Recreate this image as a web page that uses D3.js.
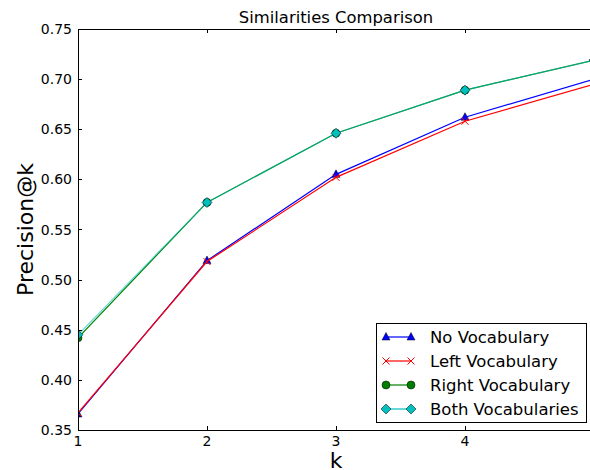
<!DOCTYPE html>
<html><head><meta charset="utf-8">
<script src="https://cdn.jsdelivr.net/npm/d3@7"></script>
<style>
body{margin:0;background:#fff;}
svg{display:block;font-family:"DejaVu Sans",sans-serif;}
</style></head>
<body><svg id="c" width="590" height="470"></svg>
<script>
const ks = [1, 2, 3, 4, 5];
const noVocab = [0.366, 0.519, 0.605, 0.662, 0.700];
const leftVocab = [0.367, 0.518, 0.602, 0.658, 0.695];
const rightVocab = [0.442, 0.577, 0.646, 0.689, 0.719];
const bothVocab = [0.445, 0.577, 0.646, 0.689, 0.719];
const xTicks = [1, 2, 3, 4, 5];
const xTickLabels = ["1", "2", "3", "4", ""];
const yTicks = [0.35, 0.40, 0.45, 0.50, 0.55, 0.60, 0.65, 0.70, 0.75];
const seriesNames = ["No Vocabulary", "Left Vocabulary", "Right Vocabulary", "Both Vocabularies"];

const series = [
  {name: seriesNames[0], vals: noVocab, color: "#0000ff", marker: "tri"},
  {name: seriesNames[1], vals: leftVocab, color: "#ff0000", marker: "x"},
  {name: seriesNames[2], vals: rightVocab, color: "#008000", marker: "circle"},
  {name: seriesNames[3], vals: bothVocab, color: "#00bfbf", marker: "diamond"}
];

const svg = d3.select("#c");
const L = 78, T = 29, B = 430, R = 594;
const x = d3.scaleLinear().domain([1, 5]).range([L, R]);
const y = d3.scaleLinear().domain([0.35, 0.75]).range([B, T]);

svg.append("defs").append("clipPath").attr("id", "clip")
  .append("rect").attr("x", L).attr("y", T).attr("width", R - L).attr("height", B - T);

const plot = svg.append("g").attr("clip-path", "url(#clip)");
const line = d3.line().x((d, i) => x(ks[i])).y(d => y(d));

function drawMarker(g, type, cx, cy, color) {
  if (type === "tri") {
    g.append("path").attr("d", `M${cx},${cy-4.5}L${cx+4},${cy+3}L${cx-4},${cy+3}Z`)
      .attr("fill", color).attr("stroke", "#000").attr("stroke-width", 0.5);
  } else if (type === "x") {
    g.append("path").attr("d", `M${cx-3.5},${cy-3.5}L${cx+3.5},${cy+3.5}M${cx-3.5},${cy+3.5}L${cx+3.5},${cy-3.5}`)
      .attr("stroke", color).attr("stroke-width", 1).attr("fill", "none");
  } else if (type === "circle") {
    g.append("circle").attr("cx", cx).attr("cy", cy).attr("r", 4)
      .attr("fill", color).attr("stroke", "#000").attr("stroke-width", 0.5);
  } else if (type === "diamond") {
    g.append("path").attr("d", `M${cx},${cy-5}L${cx+5},${cy}L${cx},${cy+5}L${cx-5},${cy}Z`)
      .attr("fill", color).attr("stroke", "#000").attr("stroke-width", 0.5);
  }
}

series.forEach((s, si) => {
  plot.append("path").datum(s.vals).attr("d", line)
    .attr("fill", "none").attr("stroke", s.color).attr("stroke-width", 1.2)
    .attr("stroke-opacity", si === 3 ? 0.6 : 1);
  s.vals.forEach((v, i) => drawMarker(plot, s.marker, x(ks[i]), y(v), s.color));
});

// frame
const frame = svg.append("g").attr("stroke", "#000").attr("stroke-width", 1).attr("fill", "none");
frame.append("rect").attr("x", L + 0.5).attr("y", T + 0.5).attr("width", R - L).attr("height", B - T);

// ticks
const tk = svg.append("g").attr("stroke", "#000").attr("stroke-width", 1);
xTicks.forEach(t => {
  const px = Math.round(x(t)) + 0.5;
  tk.append("line").attr("x1", px).attr("x2", px).attr("y1", B).attr("y2", B - 4);
  tk.append("line").attr("x1", px).attr("x2", px).attr("y1", T).attr("y2", T + 4);
});
yTicks.forEach(t => {
  const py = Math.round(y(t)) + 0.5;
  tk.append("line").attr("x1", L).attr("x2", L + 4).attr("y1", py).attr("y2", py);
  tk.append("line").attr("x1", R).attr("x2", R - 4).attr("y1", py).attr("y2", py);
});

// tick labels
xTicks.forEach((t, i) => {
  if (!xTickLabels[i]) return;
  svg.append("text").attr("x", x(t)).attr("y", 446).attr("text-anchor", "middle")
    .attr("font-size", 14).attr("fill", "#000").text(xTickLabels[i]);
});
yTicks.forEach(t => {
  svg.append("text").attr("x", 72).attr("y", y(t) + 5).attr("text-anchor", "end")
    .attr("font-size", 14).attr("fill", "#000").text(t.toFixed(2));
});

// title & labels
svg.append("text").attr("x", (L + R) / 2).attr("y", 23).attr("text-anchor", "middle")
  .attr("font-size", 16.4).attr("fill", "#000").text("Similarities Comparison");
svg.append("text").attr("x", (L + R) / 2).attr("y", 468).attr("text-anchor", "middle")
  .attr("font-size", 22).attr("fill", "#000").text("k");
svg.append("text").attr("transform", `translate(33,${(T + B) / 2}) rotate(-90)`)
  .attr("text-anchor", "middle").attr("font-size", 22).attr("fill", "#000").text("Precision@k");

// legend
const lg = svg.append("g");
lg.append("rect").attr("x", 376.5).attr("y", 323.5).attr("width", 210).attr("height", 99)
  .attr("fill", "#fff").attr("stroke", "#000").attr("stroke-width", 1);
series.forEach((s, i) => {
  const cy = 337 + i * 24;
  lg.append("line").attr("x1", 386).attr("x2", 411).attr("y1", cy).attr("y2", cy)
    .attr("stroke", s.color).attr("stroke-width", 1.2);
  drawMarker(lg, s.marker, 386, cy, s.color);
  drawMarker(lg, s.marker, 411, cy, s.color);
  lg.append("text").attr("x", 430).attr("y", cy + 6).attr("font-size", 16.5)
    .attr("fill", "#000").text(s.name);
});
</script></body></html>
